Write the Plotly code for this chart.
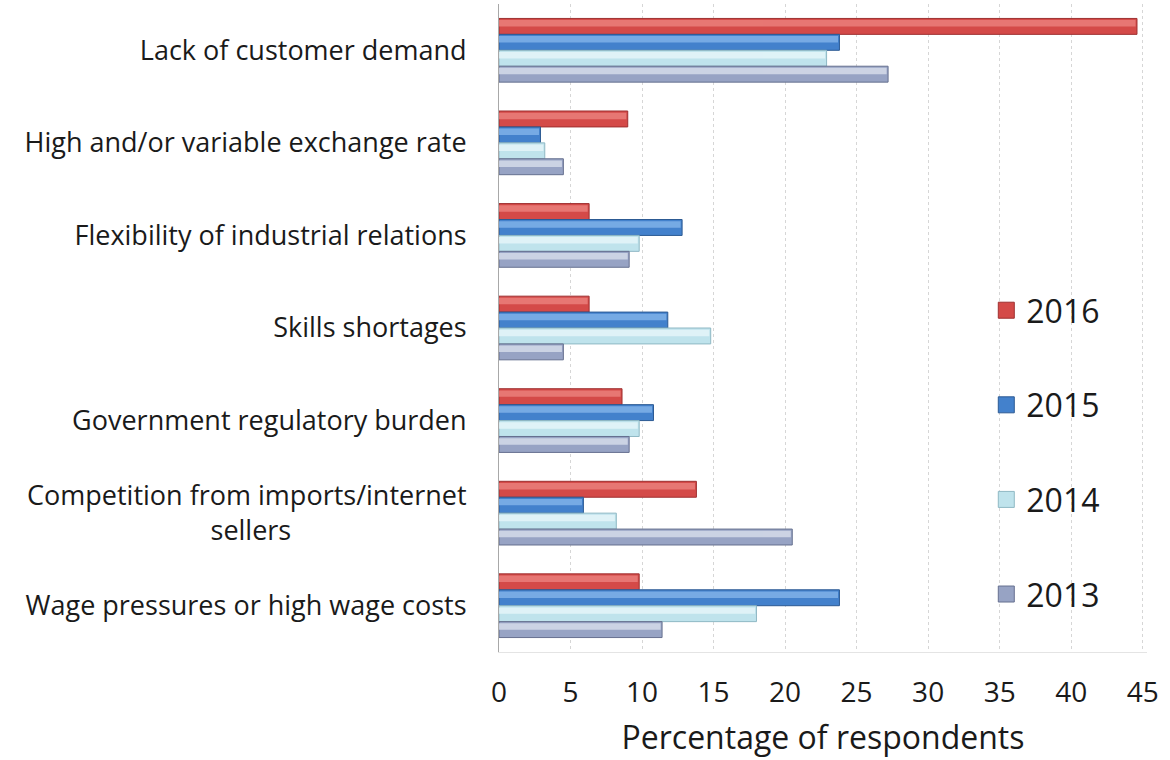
import plotly.graph_objects as go

# Survey: barriers reported by respondents, by year (percentage of respondents)
categories = [
    "Lack of customer demand",
    "High and/or variable exchange rate",
    "Flexibility of industrial relations",
    "Skills shortages",
    "Government regulatory burden",
    "Competition from imports/internet<br>sellers" + "\u00a0" * 25,
    "Wage pressures or high wage costs",
]
years = ["2016", "2015", "2014", "2013"]
values_2016 = [44.6, 9.0, 6.3, 6.3, 8.6, 13.8, 9.8]
values_2015 = [23.8, 2.9, 12.8, 11.8, 10.8, 5.9, 23.8]
values_2014 = [22.9, 3.2, 9.8, 14.8, 9.8, 8.2, 18.0]
values_2013 = [27.2, 4.5, 9.1, 4.5, 9.1, 20.5, 11.4]
x_ticks = [0, 5, 10, 15, 20, 25, 30, 35, 40, 45]

series = [values_2016, values_2015, values_2014, values_2013]

# body colour, upper highlight, outline
styles = [
    ("#d44a48", "#ee8682", "#9e3030"),
    ("#4381cc", "#88b8ec", "#2c5a93"),
    ("#bfe3ec", "#eaf8fb", "#8fb8c4"),
    ("#97a3c4", "#dde3ef", "#66708f"),
]

FONT = "Open Sans"
bar_w = 0.172
start = -2 * bar_w

fig = go.Figure()

for i, (year, vals) in enumerate(zip(years, series)):
    body, light, edge = styles[i]
    off = start + i * bar_w
    fig.add_trace(go.Bar(
        x=vals, y=categories, orientation="h", name=year,
        offset=off, width=bar_w,
        marker=dict(color=body, line=dict(color=edge, width=1)),
        showlegend=False, hoverinfo="skip",
    ))
    # glossy strip along the upper part of each bar
    fig.add_trace(go.Bar(
        x=[v - 0.1 for v in vals], y=categories, orientation="h",
        offset=off + 0.018, width=0.07,
        marker=dict(color=light, line=dict(width=0)),
        opacity=0.75, showlegend=False, hoverinfo="skip",
    ))

# legend keys
for i, year in enumerate(years):
    body, light, edge = styles[i]
    fig.add_trace(go.Scatter(
        x=[None], y=[None], mode="markers", name=year,
        legendgroup=year,
        marker=dict(symbol="square", size=20, color=body,
                    line=dict(color=edge, width=1)),
    ))

fig.update_layout(
    width=1170, height=760,
    margin=dict(l=499, r=23, t=4, b=108),
    barmode="overlay",
    paper_bgcolor="white", plot_bgcolor="white",
    font=dict(family=FONT, color="#1a1a1a"),
    showlegend=True,
    legend=dict(
        x=0.752, y=0.308, xanchor="left", yanchor="middle",
        font=dict(size=32, family=FONT, color="#1a1a1a"),
        traceorder="grouped", tracegroupgap=50,
        bgcolor="rgba(0,0,0,0)", itemwidth=30,
    ),
    xaxis=dict(
        range=[0, 45.3], tickvals=x_ticks,
        tickfont=dict(size=28, family=FONT, color="#1a1a1a"),
        ticklabelstandoff=15,
        showgrid=True, gridcolor="#d6d6d6", griddash="dot", gridwidth=1,
        zeroline=False,
        showline=True, linecolor="#e4e4e4", linewidth=1,
        title=dict(text="Percentage of respondents",
                   font=dict(size=32, family=FONT, color="#1a1a1a"),
                   standoff=18),
        fixedrange=True,
    ),
    yaxis=dict(
        autorange="reversed",
        tickfont=dict(size=27, family=FONT, color="#1a1a1a"),
        ticklabelstandoff=26,
        showgrid=False, zeroline=False,
        showline=True, linecolor="#a8a8a8", linewidth=1,
        fixedrange=True,
    ),
)

fig.write_html("out.html")
